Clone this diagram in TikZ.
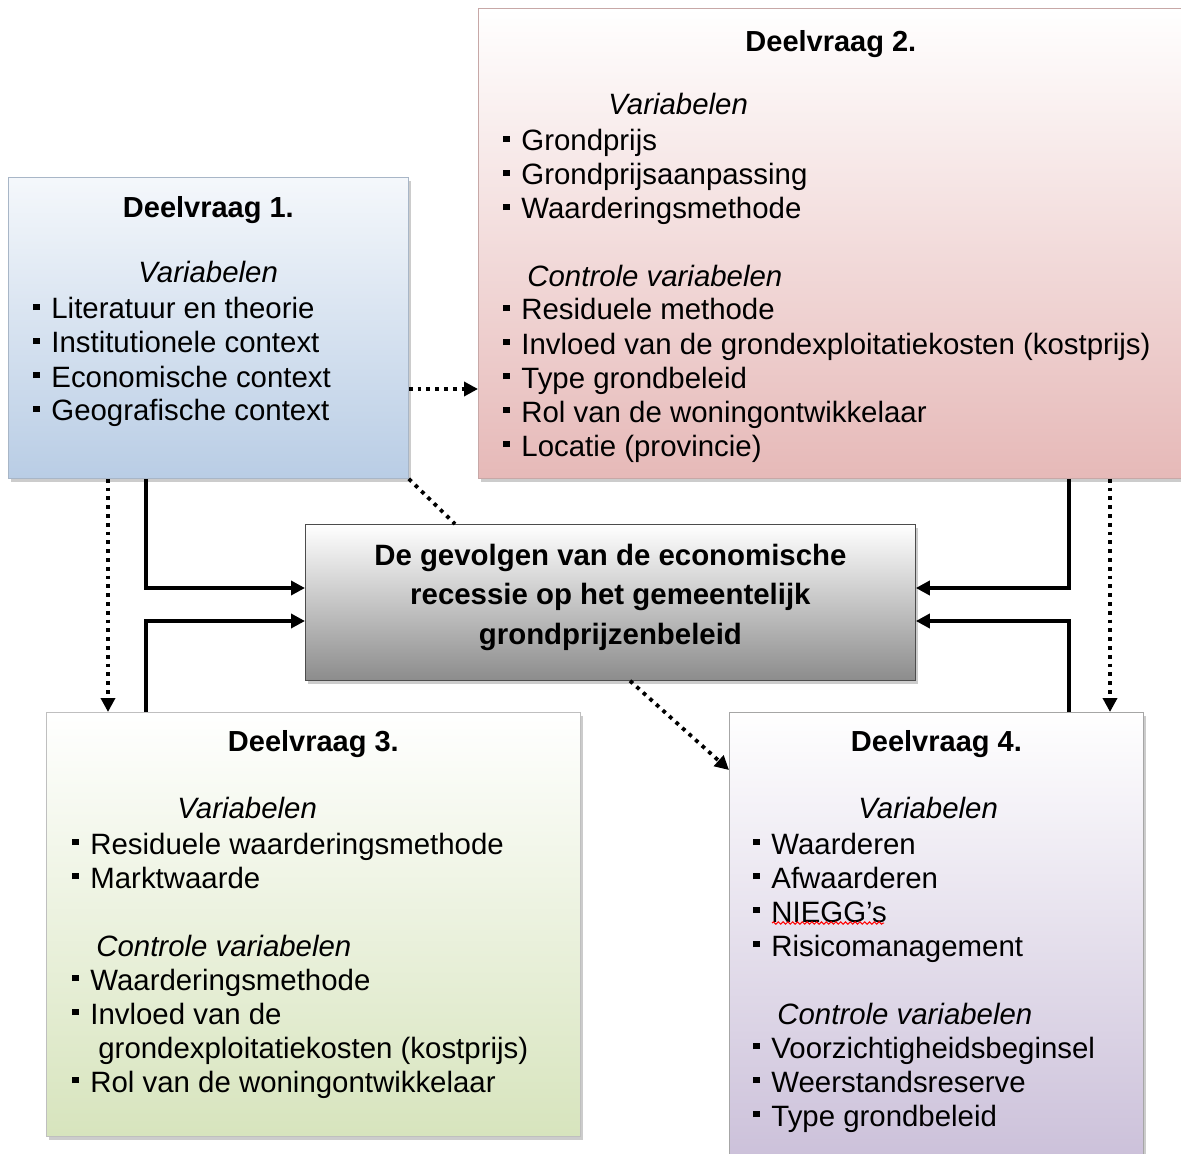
\documentclass[tikz,border=0pt]{standalone}
\usepackage{fontspec}
\setmainfont{Liberation Sans}
\usepackage{xcolor}
\usepackage{tikz}
\usetikzlibrary{shapes,arrows.meta,positioning,shadows,decorations.pathmorphing}
\definecolor{lightblue}{RGB}{185,205,229}
\definecolor{lightred}{RGB}{230,185,184}
\definecolor{lightgreen}{RGB}{215,228,189}
\definecolor{lightpurple}{RGB}{204,193,218}
\definecolor{midgray}{RGB}{140,140,140}
\newcommand{\bul}{\rule[4.4pt]{3.2pt}{3.2pt}\hspace{5.8pt}}

\begin{document}
\begin{tikzpicture}[x=0.5pt, y=-0.5pt, font=\fontsize{14.7}{17}\selectfont,
	vak/.style={rectangle, draw, inner sep=0pt, anchor=north west, drop shadow={shadow xshift=1.2pt, shadow yshift=-1.8pt, opacity=0.4}},
	kop/.style={font=\fontsize{14.5}{17}\selectfont\bfseries, anchor=base, inner sep=0pt},
	tekst/.style={align=left, anchor=base west, inner sep=0pt},
	pijl/.style={line width=1.9pt},
	stip/.style={line width=1.9pt, dash pattern=on 1.9pt off 2.5pt},
	punt/.style={-{Triangle[length=7pt,width=7pt]}}]
				\useasboundingbox (0,0) rectangle (1181,1154);
				\node[vak, draw=lightblue!70!gray, top color=lightblue!15, bottom color=lightblue, minimum width=200pt, minimum height=150.5pt] (d1) at (8,177) {};
				\node[vak, draw=lightred!70!gray, top color=white, bottom color=lightred, minimum width=352.5pt, minimum height=235pt] (d2) at (478,8) {};
				\node[vak, draw=black!70, top color=white, bottom color=midgray, minimum width=305pt, minimum height=78pt] (hoofd) at (305,524) {};
				\node[vak, draw=black!25, top color=white, bottom color=lightgreen, minimum width=267pt, minimum height=212pt] (d3) at (46,712) {};
				\node[vak, draw=black!35, top color=white, bottom color=lightpurple, minimum width=207pt, minimum height=222pt] (d4) at (729,712) {};
				\node[kop] (d1kop) at ([yshift=-20.5pt]d1.north) {Deelvraag 1.};
				\node[kop] (d2kop) at ([yshift=-22pt]d2.north) {Deelvraag 2.};
				\node[kop] (d3kop) at ([yshift=-19.5pt]d3.north) {Deelvraag 3.};
				\node[kop] (d4kop) at ([yshift=-19.5pt]d4.north) {Deelvraag 4.};
				\node[kop, align=center, font=\fontsize{14.7}{19.75}\selectfont\bfseries] (hoofdtekst) at ([yshift=-60pt]hoofd.north) {De gevolgen van de economische\\recessie op het gemeentelijk\\grondprijzenbeleid};
				\node[tekst] (d1tekst) at ([xshift=12.5pt, yshift=-122pt]d1.north west) {\hspace{52.5pt}\textit{Variabelen}\\[1pt]
					\bul Literatuur en theorie\\ \bul Institutionele context\\ \bul Economische context\\ \bul Geografische context};
				\node[tekst] (d2tekst) at ([xshift=12.5pt, yshift=-224pt]d2.north west) {\hspace{52.5pt}\textit{Variabelen}\\[1pt]
					\bul Grondprijs\\ \bul Grondprijsaanpassing\\ \bul Waarderingsmethode\\[16.5pt]
					\hspace{12pt}\textit{Controle variabelen}\\ \bul Residuele methode\\ \bul Invloed van de grondexploitatiekosten (kostprijs)\\
					\bul Type grondbeleid\\ \bul Rol van de woningontwikkelaar\\ \bul Locatie (provincie)};
				\node[tekst] (d3tekst) at ([xshift=13pt, yshift=-190pt]d3.north west) {\hspace{52.5pt}\textit{Variabelen}\\[1pt]
					\bul Residuele waarderingsmethode\\ \bul Marktwaarde\\[17pt]
					\hspace{12pt}\textit{Controle variabelen}\\ \bul Waarderingsmethode\\ \bul Invloed van de\\
					\hspace{13pt}grondexploitatiekosten (kostprijs)\\ \bul Rol van de woningontwikkelaar};
				\node[tekst] (d4tekst) at ([xshift=12pt, yshift=-207pt]d4.north west) {\hspace{52.5pt}\textit{Variabelen}\\[1pt]
					\bul Waarderen\\ \bul Afwaarderen\\ \bul NIEGG’s\\ \bul Risicomanagement\\[17pt]
					\hspace{12pt}\textit{Controle variabelen}\\ \bul Voorzichtigheidsbeginsel\\ \bul Weerstandsreserve\\ \bul Type grondbeleid};
				\draw[red, line width=0.5pt, decorate, decoration={snake, amplitude=0.6pt, segment length=2.4pt}] (772,923) -- (884,923);
				\coordinate (r1) at (146,588);
				\coordinate (r3) at (146,621);
				\coordinate (r2) at (1069,588);
				\coordinate (r4) at (1069,621);
				\coordinate (s12) at (443,389);
				\coordinate (s1h) at (455,524);
				\coordinate (sh) at (630,680);
				\coordinate (sh4) at (728,770);
				\coordinate (s13) at (108,600);
				\coordinate (s24) at (1110,600);
				\draw[pijl, punt] (d1.south -| r1) |- (hoofd.west |- r1);
				\draw[pijl, punt] (d3.north -| r3) |- (hoofd.west |- r3);
				\draw[pijl, punt] (d2.south -| r2) |- (hoofd.east |- r2);
				\draw[pijl, punt] (d4.north -| r4) |- (hoofd.east |- r4);
				\draw[stip, punt] (d1.east |- s12) -- (d2.west |- s12);
				\draw[stip] (d1.south east) -- (hoofd.north -| s1h);
				\draw[stip, punt] (hoofd.south -| sh) -- (d4.west |- sh4);
				\draw[stip, punt] (d1.south -| s13) -- (d3.north -| s13);
				\draw[stip, punt] (d2.south -| s24) -- (d4.north -| s24);
			\end{tikzpicture}
\end{document}
